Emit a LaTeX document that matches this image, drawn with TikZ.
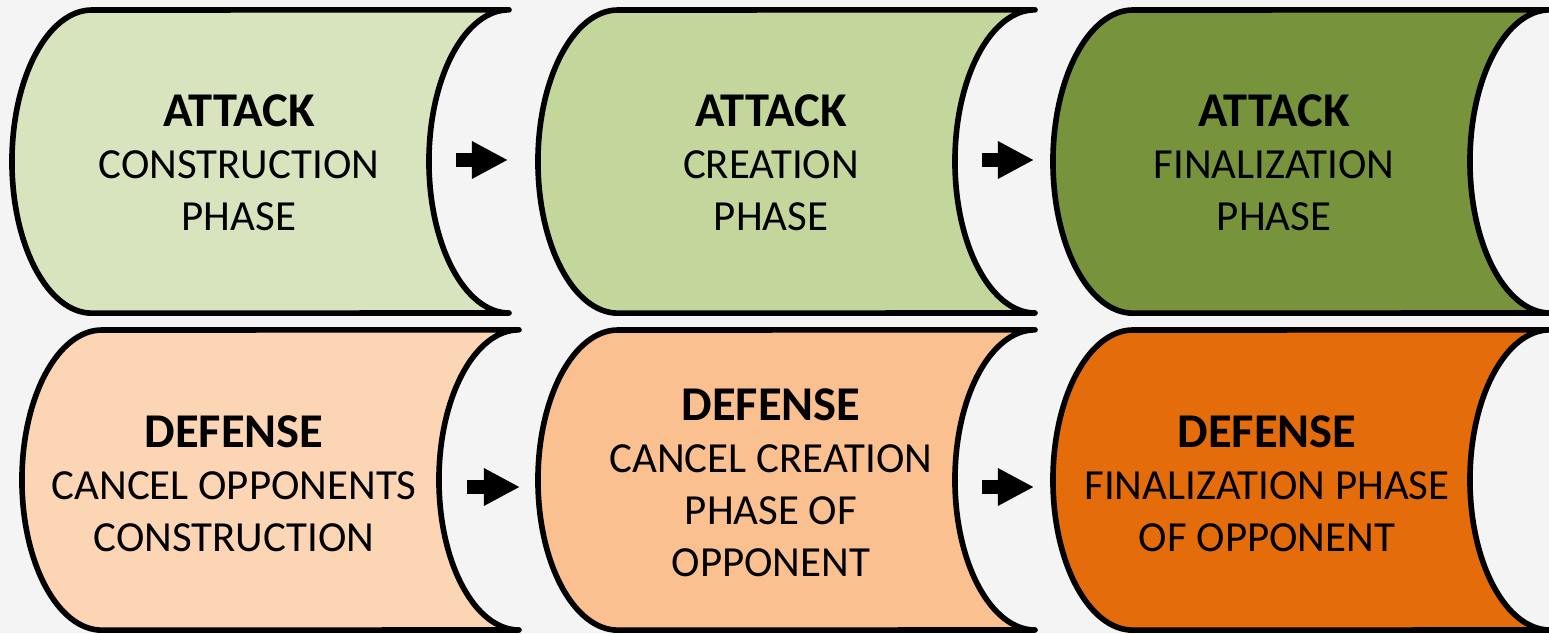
\documentclass[tikz,border=0pt]{standalone}
\usepackage{fontspec}
\setmainfont{Carlito}
\usetikzlibrary{arrows.meta}
\definecolor{canbg}{HTML}{F4F4F4}
\definecolor{attA}{HTML}{D7E4BD}
\definecolor{attB}{HTML}{C3D69B}
\definecolor{attC}{HTML}{77933C}
\definecolor{defA}{HTML}{FCD5B5}
\definecolor{defB}{HTML}{FAC090}
\definecolor{defC}{HTML}{E46C0A}
\newcommand{\phasehead}[1]{{\fontsize{13.8}{14.8}\selectfont\bfseries #1}}

\begin{document}
\begin{tikzpicture}
  [x=0.01cm,y=0.01cm,
   can/.style={draw=black,line width=1.6pt,line join=round,line cap=round},
   phasetext/.style={align=center,font=\fontsize{12.2}{14.8}\selectfont},
   blockarrow/.style={line width=0.14cm,-{Triangle[length=0.36cm,width=0.35cm]}}]

  \fill[canbg] (0,0) rectangle (1549,633);
  \clip (0,0) rectangle (1549,633);

  % cans: left x / top / bottom / half height / colour
  \foreach \xl/\yt/\yb/\ry/\col in {12/623/320/1.515/attA,538/623/320/1.515/attB,1053/623/320/1.515/attC,
                                    22/303/3/1.5/defA,538/303/3/1.5/defB,1053/303/3/1.5/defC}
    \draw[can,fill=\col] (\xl+80,\yt) arc[start angle=90,end angle=270,x radius=0.8cm,y radius=\ry cm]
      -- (\xl+497,\yb) arc[start angle=270,end angle=90,x radius=0.8cm,y radius=\ry cm] -- cycle;

  \node[phasetext] (att1) at (239,470) {\phasehead{ATTACK}\\CONSTRUCTION\\PHASE};
  \node[phasetext] (att2) at (771,470) {\phasehead{ATTACK}\\CREATION\\PHASE};
  \node[phasetext] (att3) at (1274,470) {\phasehead{ATTACK}\\FINALIZATION\\PHASE};
  \node[phasetext] (def1) at (234,149) {\phasehead{DEFENSE}\\CANCEL OPPONENTS\\CONSTRUCTION};
  \node[phasetext] (def2) at (771,150) {\phasehead{DEFENSE}\\CANCEL CREATION\\PHASE OF\\OPPONENT};
  \node[phasetext] (def3) at (1267,149) {\phasehead{DEFENSE}\\FINALIZATION PHASE\\OF OPPONENT};

  \coordinate (a1s) at (456,473); \coordinate (a1e) at (508,473);
  \coordinate (a2s) at (982,473); \coordinate (a2e) at (1034,473);
  \coordinate (a3s) at (467,146); \coordinate (a3e) at (520,146);
  \coordinate (a4s) at (982,146); \coordinate (a4e) at (1034,146);
  \foreach \from/\to in {a1s/a1e,a2s/a2e,a3s/a3e,a4s/a4e}
    \draw[blockarrow] (\from) -- (\to);
\end{tikzpicture}
\end{document}
